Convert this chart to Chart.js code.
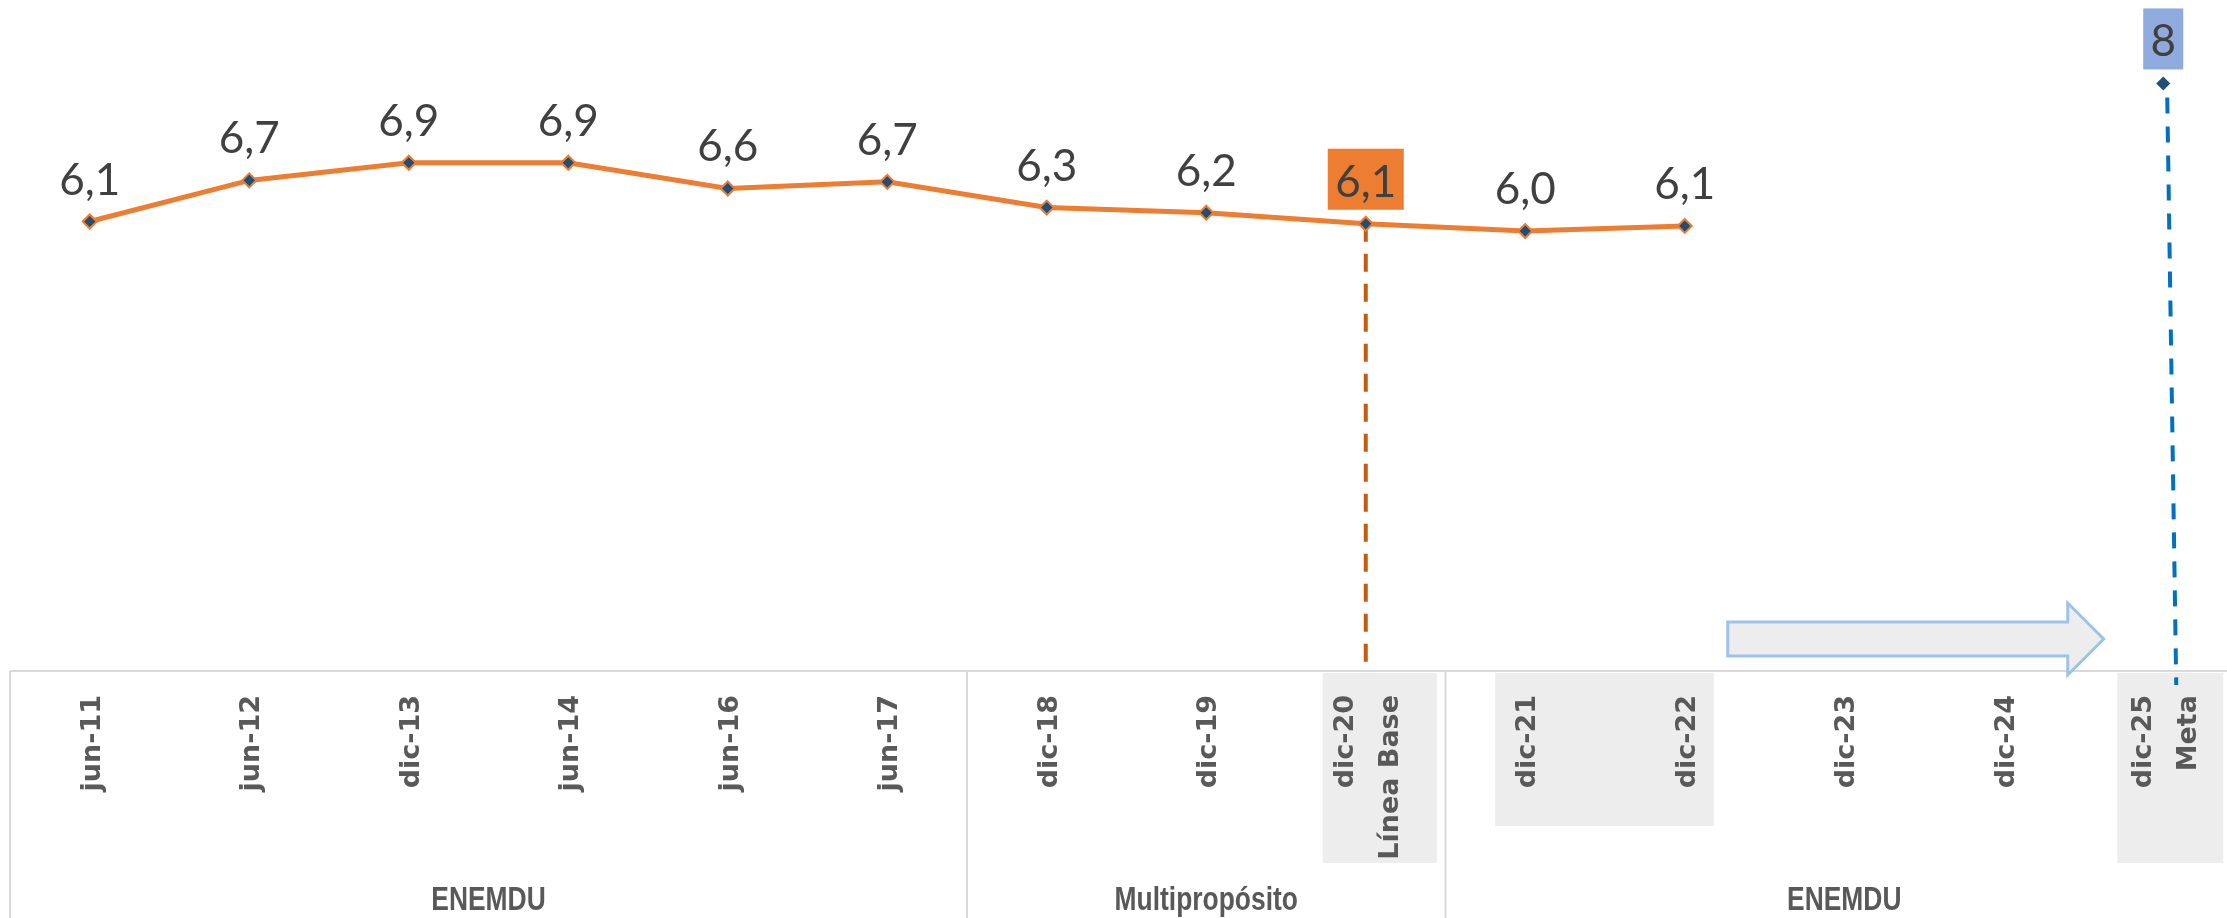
<!DOCTYPE html>
<html>
<head>
<meta charset="utf-8">
<script src="https://cdn.jsdelivr.net/npm/chart.js@4/dist/chart.umd.min.js"></script>
<style>
  html, body { margin: 0; padding: 0; background: #fff; overflow: hidden; }
  #wrap { width: 2253px; height: 918px; }
</style>
</head>
<body>
<div id="wrap"><canvas id="MetaChart" width="2253" height="918"></canvas></div>
<script>
const categories = ['jun-11', 'jun-12', 'dic-13', 'jun-14', 'jun-16', 'jun-17', 'dic-18', 'dic-19', 'dic-20', 'dic-21', 'dic-22', 'dic-23', 'dic-24', 'dic-25'];
const tickLabels = [['jun-11'], ['jun-12'], ['dic-13'], ['jun-14'], ['jun-16'], ['jun-17'], ['dic-18'], ['dic-19'], ['dic-20', 'Línea Base'], ['dic-21'], ['dic-22'], ['dic-23'], ['dic-24'], ['dic-25', 'Meta']];
const surveyValues = [6.12, 6.68, 6.92, 6.92, 6.57, 6.66, 6.31, 6.24, 6.09, 5.99, 6.06, null, null, null];
const metaValues = [null, null, null, null, null, null, null, null, null, null, null, null, null, 8];
const groupNames = ['ENEMDU', 'Multipropósito', 'ENEMDU'];
const groupStarts = [0, 6, 9];
const groupEnds = [5, 8, 13];
const baseIndex = 8;   // dic-20 Línea Base
const metaIndex = 13;  // dic-25 Meta

function fmt(v) {
    return v.toFixed(1).replace('.', ',');
}

const decorPlugin = {
    id: 'decor',
    beforeDatasetsDraw(chart) {
        const ctx = chart.ctx;
        const x = chart.scales.x;
        const area = chart.chartArea;
        const step = x.getPixelForValue(1) - x.getPixelForValue(0);
        const bottom = area.bottom;
        ctx.save();

        // gray boxes behind some tick labels
        ctx.fillStyle = '#EDEDED';
        let px = x.getPixelForValue(baseIndex);
        ctx.fillRect(px - 43, bottom + 2, 114, 190);
        ctx.fillRect(x.getPixelForValue(9) - 30, bottom + 2, x.getPixelForValue(10) - x.getPixelForValue(9) + 59, 153);
        px = x.getPixelForValue(metaIndex);
        ctx.fillRect(px - 46, bottom + 2, 106, 190);

        // table lines
        ctx.strokeStyle = '#D9D9D9';
        ctx.lineWidth = 2;
        ctx.beginPath();
        ctx.moveTo(area.left, bottom);
        ctx.lineTo(chart.width, bottom);
        ctx.moveTo(area.left, bottom);
        ctx.lineTo(area.left, chart.height);
        for (let i = 1; i < groupStarts.length; i++) {
            const sx = x.getPixelForValue(groupStarts[i]) - step / 2;
            ctx.moveTo(sx, bottom);
            ctx.lineTo(sx, chart.height);
        }
        ctx.stroke();

        // arrow towards the goal
        const ax0 = x.getPixelForValue(10) + 43;
        const ax1 = x.getPixelForValue(12) + 64;
        const tip = x.getPixelForValue(12) + 100;
        const cy = bottom - 32;
        ctx.beginPath();
        ctx.moveTo(ax0, cy - 17);
        ctx.lineTo(ax1, cy - 17);
        ctx.lineTo(ax1, cy - 36);
        ctx.lineTo(tip, cy);
        ctx.lineTo(ax1, cy + 36);
        ctx.lineTo(ax1, cy + 17);
        ctx.lineTo(ax0, cy + 17);
        ctx.closePath();
        ctx.fillStyle = '#EDEDED';
        ctx.fill();
        ctx.strokeStyle = '#9DC3E6';
        ctx.lineWidth = 3;
        ctx.stroke();

        // dashed drop lines
        const p0 = chart.getDatasetMeta(0).data[baseIndex];
        ctx.setLineDash([18, 12]);
        ctx.strokeStyle = '#C55A11';
        ctx.lineWidth = 4;
        ctx.beginPath();
        ctx.moveTo(p0.x, p0.y);
        ctx.lineTo(p0.x, bottom);
        ctx.stroke();

        const p1 = chart.getDatasetMeta(1).data[metaIndex];
        ctx.setLineDash([16, 13]);
        ctx.strokeStyle = '#0070C0';
        ctx.lineWidth = 4;
        ctx.beginPath();
        ctx.moveTo(p1.x + 4, p1.y + 14);
        ctx.lineTo(p1.x + 13, bottom + 14);
        ctx.stroke();
        ctx.restore();
    },
    afterDatasetsDraw(chart) {
        const ctx = chart.ctx;
        const x = chart.scales.x;
        const bottom = chart.chartArea.bottom;
        ctx.save();

        // value labels
        ctx.font = '44px Lato';
        ctx.textAlign = 'center';
        ctx.textBaseline = 'alphabetic';
        chart.getDatasetMeta(0).data.forEach((pt, i) => {
            const v = surveyValues[i];
            if (v === null) return;
            if (i === baseIndex) {
                ctx.fillStyle = '#ED7D31';
                ctx.fillRect(pt.x - 38, pt.y - 75, 76, 61);
            }
            ctx.fillStyle = '#404040';
            ctx.fillText(fmt(v), pt.x, pt.y - 27);
        });
        const pm = chart.getDatasetMeta(1).data[metaIndex];
        ctx.fillStyle = '#8FAADC';
        ctx.fillRect(pm.x - 20, pm.y - 75, 40, 61);
        ctx.fillStyle = '#404040';
        ctx.fillText(String(metaValues[metaIndex]), pm.x, pm.y - 27);

        // category labels, rotated
        ctx.font = 'bold 27px "DejaVu Sans", sans-serif';
        ctx.fillStyle = '#595959';
        ctx.textAlign = 'right';
        ctx.textBaseline = 'middle';
        const lh = 45;
        tickLabels.forEach((lines, i) => {
            const cx = x.getPixelForValue(i);
            lines.forEach((t, k) => {
                const off = (k - (lines.length - 1) / 2) * lh;
                ctx.save();
                ctx.translate(cx + off + 3, bottom + 24);
                ctx.rotate(-Math.PI / 2);
                ctx.fillText(t, 0, 0);
                ctx.restore();
            });
        });

        // survey group names (condensed bold)
        ctx.font = 'bold 33px "Liberation Sans", Arial, sans-serif';
        ctx.textAlign = 'center';
        ctx.textBaseline = 'middle';
        groupNames.forEach((g, i) => {
            const gx = (x.getPixelForValue(groupStarts[i]) + x.getPixelForValue(groupEnds[i])) / 2;
            ctx.save();
            ctx.translate(gx, bottom + 230);
            ctx.scale(0.8, 1);
            ctx.fillText(g, 0, 0);
            ctx.restore();
        });
        ctx.restore();
    }
};

const ctx1 = document.getElementById('MetaChart');

new Chart(ctx1, {
    type: 'line',
    data: {
        labels: categories,
        datasets: [{
            label: 'Serie',
            data: surveyValues,
            borderColor: '#ED7D31',
            borderWidth: 5,
            pointStyle: 'rectRot',
            pointRadius: 7,
            pointBackgroundColor: '#1F4E79',
            pointBorderColor: '#ED7D31',
            pointBorderWidth: 2,
            tension: 0,
            spanGaps: false
        }, {
            label: 'Meta',
            data: metaValues,
            showLine: false,
            pointStyle: 'rectRot',
            pointRadius: 7,
            pointBackgroundColor: '#1F4E79',
            pointBorderWidth: 0
        }]
    },
    options: {
        responsive: false,
        devicePixelRatio: 1,
        animation: false,
        layout: { padding: { left: 10, right: 10, top: 10, bottom: 247 } },
        plugins: { legend: { display: false }, tooltip: { enabled: false } },
        scales: {
            x: { display: false, offset: true },
            y: { display: false, min: 0, max: 9 }
        }
    },
    plugins: [decorPlugin]
});
</script>
</body>
</html>
